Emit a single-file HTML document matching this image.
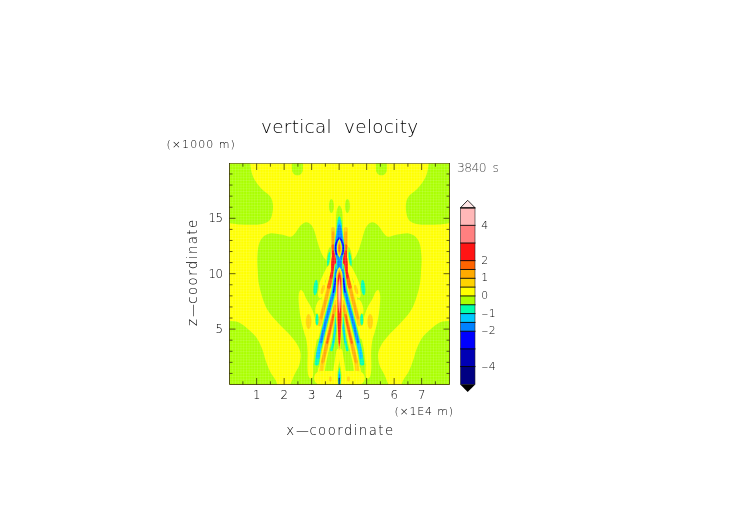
<!DOCTYPE html>
<html><head><meta charset="utf-8"><title>vertical velocity</title>
<style>
html,body{margin:0;padding:0;background:#fff;}
body{width:752px;height:532px;position:relative;overflow:hidden;font-family:"Liberation Sans",sans-serif;}
svg{position:absolute;left:0;top:0;}
.t{font-family:"DejaVu Sans Light","DejaVu Sans","Liberation Sans",sans-serif;font-weight:200;}
.b{display:inline-block;height:0;width:0;}
.d{display:inline-block;letter-spacing:0;transform:scaleX(3.3);margin:0 4.6px 0 4.4px;}
.e{display:inline-block;letter-spacing:0;transform:scaleX(1.85);margin:0 2.1px 0 1.5px;}
</style></head><body>
<svg width="752" height="532" viewBox="0 0 752 532">
<defs>
<clipPath id="cp"><rect x="229.5" y="163.5" width="220" height="221"/></clipPath>
<pattern id="gr" x="229.5" y="163.5" width="2.75" height="2.76" patternUnits="userSpaceOnUse"><path d="M0,0.4H2.75M0.4,0V2.76" stroke="#fff" stroke-width="0.6" opacity="0.2" fill="none"/></pattern>
<filter id="bl" x="-5%" y="-5%" width="110%" height="110%"><feGaussianBlur stdDeviation="0.7"/></filter>
<filter id="bl0" x="-5%" y="-5%" width="110%" height="110%"><feGaussianBlur stdDeviation="0.4"/></filter>
<g id="L0">
<path d="M220.0,150.0C225.8,137.8 244.8,147.5 249.8,150.0C254.9,152.5 249.7,160.5 250.3,165.0C250.9,169.5 251.4,173.1 253.2,177.0C255.0,180.9 258.2,185.1 261.0,188.3C263.8,191.5 268.0,193.6 270.0,196.2C272.0,198.8 272.4,201.3 272.8,204.1C273.2,206.9 273.0,210.3 272.4,213.1C271.8,215.9 271.3,219.1 269.0,221.0C266.7,222.9 263.9,223.8 258.8,224.4C253.7,225.0 243.5,224.6 238.5,224.4C233.5,224.2 232.9,223.5 229.0,223.3C225.1,223.1 216.5,235.2 215.0,223.0C213.5,210.8 214.2,162.2 220.0,150.0Z" fill="#AAFF00"/>
<path d="M291.9,158 L291.9,168.2 C291.9,173 294,175.3 297.4,175.3 C300.8,175.3 302.9,173 302.9,168.2 L302.9,158Z" fill="#AAFF00"/>
<path d="M257.7,270.0C257.6,268.1 257.1,262.5 257.3,258.3C257.5,254.1 257.8,248.3 258.8,244.7C259.8,241.1 261.4,238.7 263.3,236.8C265.2,234.9 267.1,233.8 270.1,233.4C273.1,233.0 278.0,234.0 281.4,234.6C284.8,235.2 288.1,237.0 290.4,236.8C292.6,236.6 293.2,235.3 294.9,233.4C296.6,231.5 298.7,227.4 300.6,225.5C302.5,223.6 304.4,222.3 306.2,222.2C308.0,222.1 309.9,223.5 311.3,225.1C312.7,226.7 313.8,229.4 314.7,231.9C315.6,234.4 316.1,237.0 316.9,239.8C317.7,242.6 318.8,246.2 319.7,248.8C320.6,251.4 321.8,253.9 322.6,255.6C323.5,257.3 323.9,257.9 324.8,258.8C325.7,259.7 326.5,260.3 328.0,261.0C329.5,261.7 333.0,262.7 334.0,263.0L340.4,262 L340.4,395 L288,395 L290.4,384.5C291.1,382.7 293.4,377.1 294.9,373.8C296.4,370.5 298.4,368.1 299.4,364.7C300.3,361.3 301.0,356.9 300.6,353.5C300.2,350.1 298.9,347.4 297.2,344.4C295.5,341.4 293.4,338.8 290.4,335.4C287.4,332.0 282.9,328.2 279.1,324.1C275.4,320.0 270.7,315.1 267.9,310.6C265.1,306.1 263.7,301.5 262.2,297.0C260.7,292.5 259.6,288.0 258.8,283.5C258.1,279.0 257.9,272.2 257.7,270.0Z" fill="#AAFF00"/>
<path d="M215.0,320.5C217.3,307.3 225.1,320.5 229.0,320.8C232.9,321.1 235.4,321.0 238.5,322.3C241.6,323.6 244.6,326.1 247.6,328.7C250.6,331.3 254.2,334.3 256.6,337.7C259.0,341.1 260.7,345.2 262.2,349.0C263.7,352.8 264.3,356.4 265.6,360.2C266.9,363.9 268.4,368.1 270.1,371.5C271.8,374.9 274.5,377.8 275.8,380.5C277.1,383.2 277.6,384.8 278.0,388.0C278.4,391.2 288.5,398.0 278.0,400.0C267.5,402.0 225.5,413.2 215.0,400.0C204.5,386.8 212.7,333.7 215.0,320.5Z" fill="#AAFF00"/>
<path d="M300.3,290.3C299.5,291.0 298.8,293.1 298.6,296.0C298.4,298.9 298.8,304.0 299.2,308.0C299.6,312.0 300.2,316.0 301.0,320.0C301.8,324.0 303.1,328.7 304.0,332.0C304.9,335.3 305.8,336.7 306.4,340.0C307.0,343.3 307.4,347.7 307.6,352.0C307.8,356.3 307.3,362.2 307.4,366.0C307.5,369.8 307.7,372.9 308.2,375.0C308.7,377.1 309.7,378.4 310.5,378.6C311.3,378.8 312.5,378.4 313.0,376.0C313.5,373.6 313.1,368.0 313.3,364.0C313.6,360.0 314.0,355.7 314.5,352.0C315.0,348.3 316.1,345.0 316.5,342.0C316.9,339.0 317.1,337.0 317.0,334.0C316.9,331.0 316.6,327.5 316.0,324.0C315.4,320.5 314.5,316.2 313.5,313.0C312.5,309.8 311.2,307.3 310.0,305.0C308.8,302.7 307.5,301.2 306.4,299.0C305.3,296.8 304.2,293.4 303.2,292.0C302.2,290.6 301.1,289.6 300.3,290.3Z" fill="#FFFF00"/>
<ellipse cx="308.6" cy="321.5" rx="2.8" ry="7.4" fill="#FFD200"/>
</g>
<g id="L1">
<ellipse cx="317.2" cy="322.0" rx="3.6" ry="9.5" fill="#FFFF00" transform="rotate(10 317.2 322.0)"/>
<ellipse cx="318.6" cy="307.0" rx="2.8" ry="8.0" fill="#FFFF00" transform="rotate(15 318.6 307.0)"/>
<path d="M333.1,231.0C333.1,233.3 333.1,239.8 333.2,245.0C333.3,250.2 334.0,257.5 333.9,262.0C333.8,266.5 333.2,268.6 332.6,272.0C332.0,275.4 330.7,279.5 330.0,282.5C329.3,285.5 328.9,286.9 328.2,290.0C327.4,293.1 326.8,296.0 325.5,301.0C324.2,306.0 322.0,314.3 320.5,320.0C319.0,325.7 317.2,332.5 316.5,335.0" fill="none" stroke="#FFFF00" stroke-width="8.8" stroke-linecap="round" stroke-linejoin="round"/>
<path d="M329.5,267.0C328.8,268.3 326.8,272.3 325.5,275.0C324.2,277.7 322.8,280.7 322.0,283.0C321.2,285.3 320.8,288.0 320.5,289.0" fill="none" stroke="#FFFF00" stroke-width="4.5" stroke-linecap="round" stroke-linejoin="round"/>
<ellipse cx="321.9" cy="290.0" rx="3.3" ry="8.5" fill="#FFFF00" transform="rotate(16 321.9 290.0)"/>
<ellipse cx="322.7" cy="289.5" rx="1.6" ry="5.0" fill="#FFD200" transform="rotate(16 322.7 289.5)"/>
<path d="M333.0,229.0C333.1,231.7 333.1,239.5 333.2,245.0C333.3,250.5 334.0,257.5 333.9,262.0C333.8,266.5 333.2,268.6 332.6,272.0C332.0,275.4 330.7,279.5 330.0,282.5C329.3,285.5 328.9,286.9 328.2,290.0C327.4,293.1 326.8,296.0 325.5,301.0C324.2,306.0 321.5,316.2 320.5,320.0C319.5,323.8 319.6,323.3 319.4,324.0" fill="none" stroke="#FFD200" stroke-width="4.2" stroke-linecap="round" stroke-linejoin="round"/>
<path d="M333.1,233.0C333.1,235.0 333.1,240.2 333.2,245.0C333.3,249.8 334.0,257.5 333.9,262.0C333.8,266.5 333.2,268.6 332.6,272.0C332.0,275.4 330.7,279.5 330.0,282.5C329.3,285.5 328.9,286.9 328.2,290.0C327.4,293.1 326.7,296.3 325.5,301.0C324.3,305.7 321.8,315.2 321.0,318.0" fill="none" stroke="#FFAA00" stroke-width="2.8" stroke-linecap="round" stroke-linejoin="round"/>
<path d="M333.2,246.0C333.4,248.7 334.0,257.7 333.9,262.0C333.8,266.3 333.2,268.6 332.6,272.0C332.0,275.4 330.6,280.0 330.0,282.5C329.4,285.0 329.1,286.2 328.9,287.0" fill="none" stroke="#FF6400" stroke-width="3.6" stroke-linecap="round" stroke-linejoin="round"/>
<path d="M333.5,252.0C333.6,253.7 334.0,258.7 333.9,262.0C333.8,265.3 333.0,269.5 332.6,272.0C332.2,274.5 331.6,276.2 331.4,277.0" fill="none" stroke="#FF1414" stroke-width="3.2" stroke-linecap="round" stroke-linejoin="round"/>
<ellipse cx="333.6" cy="263.5" rx="2.6" ry="10.5" fill="#FF1414" transform="rotate(2 333.6 263.5)"/>
<path d="M337.1,297.0C337.0,297.5 337.4,296.2 336.6,300.0C335.8,303.8 333.8,313.3 332.3,320.0C330.8,326.7 328.8,335.0 327.7,340.0C326.6,345.0 326.4,346.2 325.5,350.0C324.6,353.8 323.3,358.7 322.5,363.0C321.7,367.3 321.1,373.8 320.9,376.0" fill="none" stroke="#FFFF00" stroke-width="7.0" stroke-linecap="round" stroke-linejoin="round"/>
<path d="M336.2,302.0C335.5,305.0 333.7,313.7 332.3,320.0C330.9,326.3 328.8,335.0 327.7,340.0C326.6,345.0 326.4,346.2 325.5,350.0C324.6,353.8 323.2,358.9 322.5,363.0C321.8,367.1 321.3,372.6 321.0,374.5" fill="none" stroke="#FFD200" stroke-width="4.0" stroke-linecap="round" stroke-linejoin="round"/>
<path d="M335.3,306.0C334.8,308.3 333.6,314.3 332.3,320.0C331.0,325.7 328.8,335.0 327.7,340.0C326.6,345.0 326.3,346.3 325.5,350.0C324.7,353.7 323.2,360.0 322.7,362.0" fill="none" stroke="#FFAA00" stroke-width="3.0" stroke-linecap="round" stroke-linejoin="round"/>
<path d="M333.4,315.0C333.2,315.8 333.2,315.8 332.3,320.0C331.4,324.2 328.6,336.2 327.7,340.0C326.8,343.8 327.1,342.5 327.0,343.0" fill="none" stroke="#FF6400" stroke-width="2.1" stroke-linecap="round" stroke-linejoin="round"/>
<path d="M338.6,351.0C338.1,354.0 336.5,364.2 335.8,369.0C335.1,373.8 334.8,376.5 334.5,380.0C334.2,383.5 334.1,388.3 334.0,390.0" fill="none" stroke="#FFFF00" stroke-width="4.6" stroke-linecap="round" stroke-linejoin="round"/>
<path d="M321.0,378.0L334.0,378.0" fill="none" stroke="#FFFF00" stroke-width="14" stroke-linecap="round" stroke-linejoin="round"/>
<ellipse cx="330.4" cy="379.0" rx="1.4" ry="2.7" fill="#FFD200"/>
<path d="M337.3,266.0C337.3,266.2 337.4,265.5 337.2,267.0C337.0,268.5 336.4,272.4 336.0,275.0C335.6,277.6 335.3,280.0 335.0,282.5C334.7,285.0 334.5,287.5 334.0,290.0C333.5,292.5 332.7,295.1 332.1,297.6C331.5,300.1 331.2,301.3 330.2,305.0C329.2,308.7 327.7,314.2 326.2,320.0C324.7,325.8 322.5,335.0 321.3,340.0C320.1,345.0 319.7,346.0 318.9,350.0C318.1,354.0 317.0,361.5 316.6,364.0C316.2,366.5 316.5,364.8 316.5,365.0" fill="none" stroke="#AAFF00" stroke-width="6.0" stroke-linecap="round" stroke-linejoin="round"/>
<path d="M337.3,266.0C337.3,266.2 337.4,265.5 337.2,267.0C337.0,268.5 336.4,272.4 336.0,275.0C335.6,277.6 335.3,280.0 335.0,282.5C334.7,285.0 334.5,287.5 334.0,290.0C333.5,292.5 332.7,295.1 332.1,297.6C331.5,300.1 331.2,301.3 330.2,305.0C329.2,308.7 327.7,314.2 326.2,320.0C324.7,325.8 322.5,335.0 321.3,340.0C320.1,345.0 319.7,346.1 318.9,350.0C318.1,353.9 317.1,361.2 316.7,363.5" fill="none" stroke="#00FFAA" stroke-width="4.3" stroke-linecap="round" stroke-linejoin="round"/>
<path d="M337.3,266.0C337.3,266.2 337.4,265.5 337.2,267.0C337.0,268.5 336.4,272.4 336.0,275.0C335.6,277.6 335.3,280.0 335.0,282.5C334.7,285.0 334.5,287.5 334.0,290.0C333.5,292.5 332.7,295.1 332.1,297.6C331.5,300.1 331.2,301.3 330.2,305.0C329.2,308.7 327.7,314.2 326.2,320.0C324.7,325.8 322.5,335.0 321.3,340.0C320.1,345.0 319.5,347.2 318.9,350.0C318.3,352.8 317.9,355.8 317.8,357.0" fill="none" stroke="#00C8FF" stroke-width="3.3" stroke-linecap="round" stroke-linejoin="round"/>
<path d="M337.2,267.0C337.0,268.3 336.4,272.4 336.0,275.0C335.6,277.6 335.3,280.0 335.0,282.5C334.7,285.0 334.5,287.5 334.0,290.0C333.5,292.5 332.7,295.1 332.1,297.6C331.5,300.1 331.2,301.3 330.2,305.0C329.2,308.7 327.7,314.2 326.2,320.0C324.7,325.8 322.2,336.3 321.3,340.0C320.4,343.7 320.9,341.7 320.8,342.0" fill="none" stroke="#0082FF" stroke-width="2.5" stroke-linecap="round" stroke-linejoin="round"/>
<path d="M335.5,278.5C335.4,279.2 335.3,280.6 335.0,282.5C334.7,284.4 334.2,288.4 334.0,290.0C333.8,291.6 333.6,291.7 333.5,292.0" fill="none" stroke="#0000FF" stroke-width="1.4" stroke-linecap="round" stroke-linejoin="round"/>
<path d="M337.0,314.0C337.0,314.3 337.3,311.7 336.8,316.0C336.3,320.3 334.8,334.0 333.8,340.0C332.8,346.0 331.5,349.7 331.0,352.0C330.5,354.3 330.7,353.7 330.6,354.0" fill="none" stroke="#AAFF00" stroke-width="4.4" stroke-linecap="round" stroke-linejoin="round"/>
<path d="M336.6,318.0C336.1,321.7 334.6,334.7 333.8,340.0C333.0,345.3 331.9,348.3 331.5,350.0" fill="none" stroke="#00FFAA" stroke-width="2.6" stroke-linecap="round" stroke-linejoin="round"/>
<path d="M335.8,324.0C335.5,326.7 334.2,336.8 333.8,340.0C333.4,343.2 333.2,342.5 333.1,343.0" fill="none" stroke="#00C8FF" stroke-width="1.2" stroke-linecap="round" stroke-linejoin="round"/>
<ellipse cx="315.6" cy="287.5" rx="3.2" ry="9.3" fill="#AAFF00" transform="rotate(6 315.6 287.5)"/>
<ellipse cx="315.6" cy="287.5" rx="2.1" ry="7.8" fill="#00FFAA" transform="rotate(6 315.6 287.5)"/>
<ellipse cx="317.0" cy="319.5" rx="1.9" ry="6.4" fill="#AAFF00"/>
<ellipse cx="317.0" cy="319.5" rx="1.4" ry="5.6" fill="#00FFAA"/>
<ellipse cx="328.8" cy="257.0" rx="2.0" ry="10.0" fill="#AAFF00" transform="rotate(8 328.8 257.0)"/>
<ellipse cx="328.6" cy="258.8" rx="1.2" ry="7.2" fill="#00FFAA" transform="rotate(8 328.6 258.8)"/>
<ellipse cx="331.4" cy="206.0" rx="2.4" ry="7.0" fill="#AAFF00"/>
</g>
</defs>
<g clip-path="url(#cp)">
<rect x="229" y="163" width="221" height="222" fill="#FFFF00"/>
<g filter="url(#bl0)">
<use href="#L0"/>
<use href="#L0" transform="translate(678.8 0) scale(-1 1)"/>
</g>
<g filter="url(#bl)">
<use href="#L1"/>
<use href="#L1" transform="translate(678.8 0) scale(-1 1)"/>
<path d="M339.4,205.5C338.8,205.5 338.0,206.9 337.5,208.0C337.0,209.1 336.8,209.7 336.5,212.0C336.2,214.3 336.0,218.7 335.9,222.0C335.8,225.3 336.0,229.0 335.8,232.0C335.6,235.0 335.1,237.7 334.8,240.0C334.5,242.3 334.2,244.0 334.1,246.0C334.0,248.0 334.1,250.0 334.4,252.0C334.7,254.0 335.4,256.0 335.7,258.0C336.0,260.0 336.2,262.2 336.3,264.0C336.4,265.8 335.4,268.2 336.4,269.0C337.4,269.8 341.4,269.8 342.4,269.0C343.4,268.2 342.4,265.8 342.5,264.0C342.6,262.2 342.8,260.0 343.1,258.0C343.4,256.0 344.1,254.0 344.4,252.0C344.7,250.0 344.8,248.0 344.7,246.0C344.6,244.0 344.3,242.3 344.0,240.0C343.7,237.7 343.2,235.0 343.0,232.0C342.8,229.0 343.0,225.3 342.9,222.0C342.8,218.7 342.6,214.3 342.3,212.0C342.0,209.7 341.8,209.1 341.3,208.0C340.8,206.9 340.0,205.5 339.4,205.5Z" fill="#AAFF00"/>
<path d="M339.4,216.2C339.0,216.2 338.6,217.0 338.2,218.0C337.8,219.0 337.6,219.7 337.3,222.0C337.0,224.3 336.6,229.0 336.3,232.0C335.9,235.0 335.5,237.7 335.2,240.0C334.9,242.3 334.5,244.0 334.4,246.0C334.3,248.0 334.4,250.0 334.7,252.0C335.0,254.0 335.8,256.0 336.1,258.0C336.4,260.0 336.5,262.2 336.6,264.0C336.7,265.8 335.8,268.2 336.7,269.0C337.6,269.8 341.2,269.8 342.1,269.0C343.0,268.2 342.1,265.8 342.2,264.0C342.3,262.2 342.4,260.0 342.7,258.0C343.0,256.0 343.8,254.0 344.1,252.0C344.4,250.0 344.5,248.0 344.4,246.0C344.3,244.0 343.9,242.3 343.6,240.0C343.3,237.7 342.9,235.0 342.5,232.0C342.1,229.0 341.8,224.3 341.5,222.0C341.2,219.7 340.9,219.0 340.6,218.0C340.2,217.0 339.8,216.2 339.4,216.2Z" fill="#00FFAA"/>
<path d="M339.4,219.8C339.1,219.8 338.7,220.6 338.4,221.5C338.1,222.4 337.7,223.2 337.4,225.0C337.1,226.8 336.9,229.5 336.6,232.0C336.3,234.5 335.8,237.7 335.5,240.0C335.2,242.3 334.7,244.0 334.6,246.0C334.5,248.0 334.6,250.0 334.9,252.0C335.2,254.0 336.1,256.0 336.4,258.0C336.7,260.0 336.8,262.2 336.9,264.0C337.0,265.8 336.2,268.2 337.0,269.0C337.8,269.8 341.0,269.8 341.8,269.0C342.6,268.2 341.8,265.8 341.9,264.0C342.0,262.2 342.1,260.0 342.4,258.0C342.7,256.0 343.6,254.0 343.9,252.0C344.2,250.0 344.3,248.0 344.2,246.0C344.1,244.0 343.6,242.3 343.3,240.0C343.0,237.7 342.5,234.5 342.2,232.0C341.9,229.5 341.7,226.8 341.4,225.0C341.1,223.2 340.7,222.4 340.4,221.5C340.1,220.6 339.7,219.8 339.4,219.8Z" fill="#00C8FF"/>
<path d="M339.4,223.8C339.1,223.8 338.7,224.6 338.4,225.5C338.1,226.4 337.6,227.6 337.4,229.0C337.1,230.4 337.2,232.2 336.9,234.0C336.6,235.8 336.1,238.0 335.8,240.0C335.5,242.0 335.0,244.0 334.9,246.0C334.8,248.0 334.9,250.0 335.2,252.0C335.5,254.0 336.4,256.0 336.7,258.0C337.0,260.0 337.1,262.2 337.2,264.0C337.3,265.8 336.7,268.2 337.4,269.0C338.1,269.8 340.7,269.8 341.4,269.0C342.1,268.2 341.5,265.8 341.6,264.0C341.7,262.2 341.8,260.0 342.1,258.0C342.4,256.0 343.3,254.0 343.6,252.0C343.9,250.0 344.0,248.0 343.9,246.0C343.8,244.0 343.3,242.0 343.0,240.0C342.7,238.0 342.2,235.8 341.9,234.0C341.6,232.2 341.6,230.4 341.4,229.0C341.1,227.6 340.7,226.4 340.4,225.5C340.1,224.6 339.7,223.8 339.4,223.8Z" fill="#0082FF"/>
<path d="M338.79999999999995,238.3 C335.0,243 334.79999999999995,249 336.5,254.5 M340.0,238.3 C343.79999999999995,243 344.0,249 342.29999999999995,254.5" fill="none" stroke="#0000FF" stroke-width="1.7" stroke-linecap="round"/>
<path d="M339.4,238.6 C342.97499999999997,244.42 342.97499999999997,252.18 339.4,258.0 C335.825,252.18 335.825,244.42 339.4,238.6Z" fill="#00C8FF"/>
<path d="M339.4,238.9 C342.65,244.54 342.65,252.06 339.4,257.7 C336.15,252.06 336.15,244.54 339.4,238.9Z" fill="#AAFF00"/>
<path d="M339.4,239.4 C342.195,244.74 342.195,251.85999999999999 339.4,257.2 C336.60499999999996,251.85999999999999 336.60499999999996,244.74 339.4,239.4Z" fill="#FFFF00"/>
<path d="M339.4,240.3 C341.73999999999995,245.10000000000002 341.73999999999995,251.5 339.4,256.3 C337.06,251.5 337.06,245.10000000000002 339.4,240.3Z" fill="#FFD200"/>
<path d="M339.4,241.2 C341.34999999999997,245.45999999999998 341.34999999999997,251.14 339.4,255.4 C337.45,251.14 337.45,245.45999999999998 339.4,241.2Z" fill="#FFAA00"/>
<path d="M339.4,243.5 C340.635,246.35 340.635,250.15 339.4,253 C338.16499999999996,250.15 338.16499999999996,246.35 339.4,243.5Z" fill="#FF6400"/>
<ellipse cx="339.4" cy="263.5" rx="2.7" ry="5.2" fill="#00C8FF"/>
<ellipse cx="339.4" cy="263.5" rx="2.2" ry="4.6" fill="#0082FF"/>
<path d="M339.4,267.0 C341.0,269.0 342.59999999999997,272.0 342.59999999999997,277.0 L342.59999999999997,322 L339.9,354 L338.9,354 L336.2,322 L336.2,277.0 C336.2,272.0 337.79999999999995,269.0 339.4,267.0Z" fill="#FFFF00"/>
<path d="M339.4,268.5 C340.7,270.5 342.0,273.5 342.0,278.5 L342.0,320 L339.9,350 L338.9,350 L336.79999999999995,320 L336.79999999999995,278.5 C336.79999999999995,273.5 338.09999999999997,270.5 339.4,268.5Z" fill="#FFD200"/>
<path d="M339.4,270.0 C340.5,272.0 341.59999999999997,275.0 341.59999999999997,280.0 L341.59999999999997,320 L339.9,348 L338.9,348 L337.2,320 L337.2,280.0 C337.2,275.0 338.29999999999995,272.0 339.4,270.0Z" fill="#FFAA00"/>
<path d="M339.4,271.5 C340.34999999999997,273.5 341.29999999999995,276.5 341.29999999999995,281.5 L341.29999999999995,320 L339.9,346 L338.9,346 L337.5,320 L337.5,281.5 C337.5,276.5 338.45,273.5 339.4,271.5Z" fill="#FF6400"/>
<path d="M339.4,272.8 C340.2,274.8 341.0,277.8 341.0,282.8 L341.0,318 L339.9,344 L338.9,344 L337.79999999999995,318 L337.79999999999995,282.8 C337.79999999999995,277.8 338.59999999999997,274.8 339.4,272.8Z" fill="#FF1414"/>
<path d="M339.4,277.0 C341.41499999999996,288.1 341.41499999999996,302.9 339.4,314 C337.385,302.9 337.385,288.1 339.4,277.0Z" fill="#FF8080"/>
<path d="M339.4,280 C340.44,287.2 340.44,296.8 339.4,304 C338.35999999999996,296.8 338.35999999999996,287.2 339.4,280Z" fill="#FFB8B8"/>
<path d="M339.4,364 C342.13,371.8 342.13,382.2 339.4,390 C336.66999999999996,382.2 336.66999999999996,371.8 339.4,364Z" fill="#AAFF00"/>
<path d="M339.4,367 C341.21999999999997,373.6 341.21999999999997,382.4 339.4,389 C337.58,382.4 337.58,373.6 339.4,367Z" fill="#00FFAA"/>
<path d="M339.4,370 C340.7,375.7 340.7,383.3 339.4,389 C338.09999999999997,383.3 338.09999999999997,375.7 339.4,370Z" fill="#00C8FF"/>
<path d="M339.4,373 C340.31,377.8 340.31,384.2 339.4,389 C338.48999999999995,384.2 338.48999999999995,377.8 339.4,373Z" fill="#0082FF"/>
</g>
<rect x="229" y="163" width="221" height="222" fill="url(#gr)"/>
</g>
<path d="M229.5,163 V384.5 H449.5 V163" fill="none" stroke="#2a2000" stroke-width="1" opacity="0.75"/>
<path d="M229,163.5 H450" fill="none" stroke="#2a2000" stroke-width="1" opacity="0.5"/>
<path d="M242.90,384.5 v-3.2 M242.90,163.5 v3.2 M256.65,384.5 v-6.5 M256.65,163.5 v6.5 M270.40,384.5 v-3.2 M270.40,163.5 v3.2 M284.15,384.5 v-6.5 M284.15,163.5 v6.5 M297.90,384.5 v-3.2 M297.90,163.5 v3.2 M311.65,384.5 v-6.5 M311.65,163.5 v6.5 M325.40,384.5 v-3.2 M325.40,163.5 v3.2 M339.15,384.5 v-6.5 M339.15,163.5 v6.5 M352.90,384.5 v-3.2 M352.90,163.5 v3.2 M366.65,384.5 v-6.5 M366.65,163.5 v6.5 M380.40,384.5 v-3.2 M380.40,163.5 v3.2 M394.15,384.5 v-6.5 M394.15,163.5 v6.5 M407.90,384.5 v-3.2 M407.90,163.5 v3.2 M421.65,384.5 v-6.5 M421.65,163.5 v6.5 M435.40,384.5 v-3.2 M435.40,163.5 v3.2 M229.5,373.42 h3.0 M449.5,373.42 h-3.0 M229.5,362.34 h3.0 M449.5,362.34 h-3.0 M229.5,351.26 h3.0 M449.5,351.26 h-3.0 M229.5,340.18 h3.0 M449.5,340.18 h-3.0 M229.5,329.10 h6.0 M449.5,329.10 h-6.0 M229.5,318.02 h3.0 M449.5,318.02 h-3.0 M229.5,306.94 h3.0 M449.5,306.94 h-3.0 M229.5,295.86 h3.0 M449.5,295.86 h-3.0 M229.5,284.78 h3.0 M449.5,284.78 h-3.0 M229.5,273.70 h6.0 M449.5,273.70 h-6.0 M229.5,262.62 h3.0 M449.5,262.62 h-3.0 M229.5,251.54 h3.0 M449.5,251.54 h-3.0 M229.5,240.46 h3.0 M449.5,240.46 h-3.0 M229.5,229.38 h3.0 M449.5,229.38 h-3.0 M229.5,218.30 h6.0 M449.5,218.30 h-6.0 M229.5,207.22 h3.0 M449.5,207.22 h-3.0 M229.5,196.14 h3.0 M449.5,196.14 h-3.0 M229.5,185.06 h3.0 M449.5,185.06 h-3.0 M229.5,173.98 h3.0 M449.5,173.98 h-3.0" stroke="#1a1400" stroke-width="0.8" fill="none" opacity="0.85"/>
<rect x="460.5" y="207.70" width="14.5" height="17.95" fill="#FFB8B8"/>
<rect x="460.5" y="225.35" width="14.5" height="17.95" fill="#FF8080"/>
<rect x="460.5" y="243.00" width="14.5" height="17.95" fill="#FF1414"/>
<rect x="460.5" y="260.65" width="14.5" height="9.12" fill="#FF6400"/>
<rect x="460.5" y="269.47" width="14.5" height="9.12" fill="#FFAA00"/>
<rect x="460.5" y="278.30" width="14.5" height="9.13" fill="#FFD200"/>
<rect x="460.5" y="287.12" width="14.5" height="9.12" fill="#FFFF00"/>
<rect x="460.5" y="295.95" width="14.5" height="9.12" fill="#AAFF00"/>
<rect x="460.5" y="304.77" width="14.5" height="9.12" fill="#00FFAA"/>
<rect x="460.5" y="313.60" width="14.5" height="9.12" fill="#00C8FF"/>
<rect x="460.5" y="322.42" width="14.5" height="9.13" fill="#0082FF"/>
<rect x="460.5" y="331.25" width="14.5" height="17.95" fill="#0000FF"/>
<rect x="460.5" y="348.90" width="14.5" height="17.95" fill="#0000B4"/>
<rect x="460.5" y="366.55" width="14.5" height="17.95" fill="#000082"/>
<line x1="460" x2="475.5" y1="225.35" y2="225.35" stroke="#000" stroke-width="0.9"/>
<line x1="460" x2="475.5" y1="243.00" y2="243.00" stroke="#000" stroke-width="0.9"/>
<line x1="460" x2="475.5" y1="260.65" y2="260.65" stroke="#000" stroke-width="0.9"/>
<line x1="460" x2="475.5" y1="269.47" y2="269.47" stroke="#000" stroke-width="0.9"/>
<line x1="460" x2="475.5" y1="278.30" y2="278.30" stroke="#000" stroke-width="0.9"/>
<line x1="460" x2="475.5" y1="287.12" y2="287.12" stroke="#000" stroke-width="0.9"/>
<line x1="460" x2="475.5" y1="295.95" y2="295.95" stroke="#000" stroke-width="0.9"/>
<line x1="460" x2="475.5" y1="304.77" y2="304.77" stroke="#000" stroke-width="0.9"/>
<line x1="460" x2="475.5" y1="313.60" y2="313.60" stroke="#000" stroke-width="0.9"/>
<line x1="460" x2="475.5" y1="322.42" y2="322.42" stroke="#000" stroke-width="0.9"/>
<line x1="460" x2="475.5" y1="331.25" y2="331.25" stroke="#000" stroke-width="0.9"/>
<line x1="460" x2="475.5" y1="348.90" y2="348.90" stroke="#000" stroke-width="0.9"/>
<line x1="460" x2="475.5" y1="366.55" y2="366.55" stroke="#000" stroke-width="0.9"/>
<path d="M460.5,207.7 L467.7,200.3 L475,207.7Z" fill="#FFE6E6" stroke="#000" stroke-width="0.8" stroke-linejoin="miter"/>
<path d="M460,384.2 L467.7,391.9 L475.5,384.2Z" fill="#000"/>
<line x1="460" x2="475.5" y1="208.0" y2="208.0" stroke="#000" stroke-width="1.0"/>
<path d="M460.5,207.7 V384.2 M475,207.7 V384.2" stroke="#222" stroke-width="0.8" fill="none" opacity="0.75"/>
</svg>
<div class="t" style="position:absolute;left:261.0px;top:126.83px;font-size:18.4px;letter-spacing:0.3px;color:#000;line-height:0;white-space:pre;word-spacing:6px;">vertical velocity</div>
<div class="t" style="position:absolute;left:166.5px;top:144.69px;font-size:11px;letter-spacing:1.05px;color:#000;line-height:0;white-space:pre;word-spacing:0px;">(×1000 m)</div>
<div class="t" style="position:absolute;left:457.0px;top:167.64px;font-size:12.3px;letter-spacing:-0.55px;color:#505050;line-height:0;white-space:pre;word-spacing:3px;">3840 s</div>
<div class="t" style="position:absolute;left:286.3px;top:430.80px;font-size:13.3px;letter-spacing:1.42px;color:#000;line-height:0;white-space:pre;">x<span class="d">-</span>coordinate</div>
<div class="t" style="position:absolute;left:394.4px;top:411.59px;font-size:11px;letter-spacing:0.8px;color:#000;line-height:0;white-space:pre;word-spacing:0px;">(×1E4 m)</div>
<div class="t" style="position:absolute;left:197.6px;top:326.4px;font-size:13.3px;letter-spacing:1.45px;color:#000;line-height:0;white-space:pre;transform-origin:0 0;transform:rotate(-90deg) translateY(-4.60px)">z<span class="d">-</span>coordinate</div>
<div class="t" style="position:absolute;right:529.4px;top:218.25px;font-size:11.7px;letter-spacing:-0.4px;color:#000;line-height:0;white-space:pre;">15</div>
<div class="t" style="position:absolute;right:529.4px;top:273.55px;font-size:11.7px;letter-spacing:-0.4px;color:#000;line-height:0;white-space:pre;">10</div>
<div class="t" style="position:absolute;right:529.4px;top:328.75px;font-size:11.7px;letter-spacing:-0.4px;color:#000;line-height:0;white-space:pre;">5</div>
<div class="t" style="position:absolute;left:246.8px;width:20px;text-align:center;top:394.95px;font-size:11.7px;color:#000;line-height:0">1</div>
<div class="t" style="position:absolute;left:274.3px;width:20px;text-align:center;top:394.95px;font-size:11.7px;color:#000;line-height:0">2</div>
<div class="t" style="position:absolute;left:301.8px;width:20px;text-align:center;top:394.95px;font-size:11.7px;color:#000;line-height:0">3</div>
<div class="t" style="position:absolute;left:329.3px;width:20px;text-align:center;top:394.95px;font-size:11.7px;color:#000;line-height:0">4</div>
<div class="t" style="position:absolute;left:356.8px;width:20px;text-align:center;top:394.95px;font-size:11.7px;color:#000;line-height:0">5</div>
<div class="t" style="position:absolute;left:384.3px;width:20px;text-align:center;top:394.95px;font-size:11.7px;color:#000;line-height:0">6</div>
<div class="t" style="position:absolute;left:411.8px;width:20px;text-align:center;top:394.95px;font-size:11.7px;color:#000;line-height:0">7</div>
<div class="t" style="position:absolute;left:481.3px;top:225.51px;font-size:10.8px;letter-spacing:0px;color:#000;line-height:0;white-space:pre;">4</div>
<div class="t" style="position:absolute;left:481.3px;top:260.81px;font-size:10.8px;letter-spacing:0px;color:#000;line-height:0;white-space:pre;">2</div>
<div class="t" style="position:absolute;left:481.3px;top:278.46px;font-size:10.8px;letter-spacing:0px;color:#000;line-height:0;white-space:pre;">1</div>
<div class="t" style="position:absolute;left:481.3px;top:296.11px;font-size:10.8px;letter-spacing:0px;color:#000;line-height:0;white-space:pre;">0</div>
<div class="t" style="position:absolute;left:481.3px;top:313.76px;font-size:10.8px;letter-spacing:0px;color:#000;line-height:0;white-space:pre;"><span class="e">-</span>1</div>
<div class="t" style="position:absolute;left:481.3px;top:331.41px;font-size:10.8px;letter-spacing:0px;color:#000;line-height:0;white-space:pre;"><span class="e">-</span>2</div>
<div class="t" style="position:absolute;left:481.3px;top:366.71px;font-size:10.8px;letter-spacing:0px;color:#000;line-height:0;white-space:pre;"><span class="e">-</span>4</div>
</body></html>
